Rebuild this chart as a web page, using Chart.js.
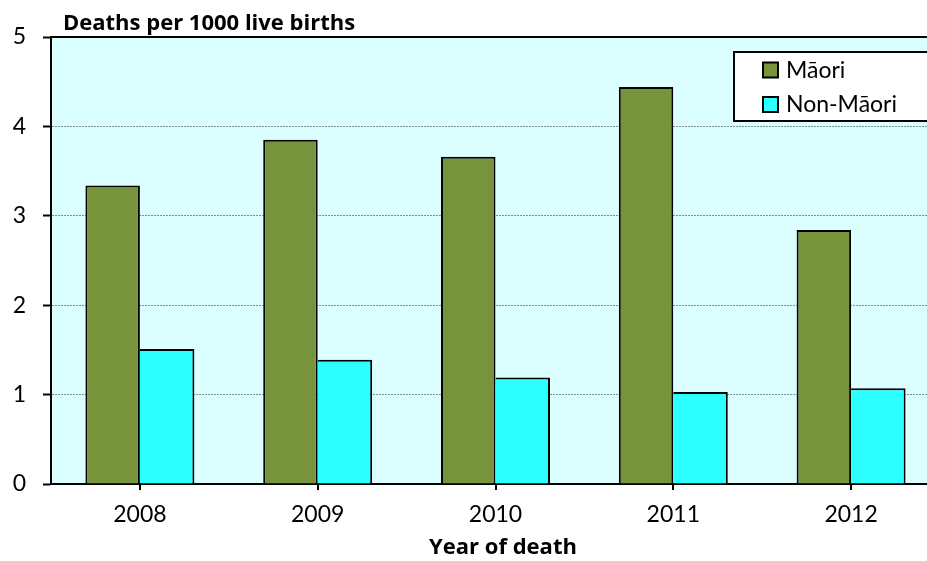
<!DOCTYPE html>
<html>
<head>
<meta charset="utf-8">
<script src="https://cdn.jsdelivr.net/npm/chart.js@4.4.0/dist/chart.umd.min.js"></script>
<style>
html,body{margin:0;padding:0;overflow:hidden;background:#fff;}
#wrap{position:relative;width:940px;height:561px;}
</style>
</head>
<body>
<div id="wrap"><canvas id="c"></canvas></div>
<script>
const years = ['2008','2009','2010','2011','2012'];
const maori = [3.34, 3.85, 3.66, 4.44, 2.84];
const nonMaori = [1.51, 1.39, 1.19, 1.03, 1.07];
const seriesNames = ['Māori', 'Non-Māori'];
const yTitle = 'Deaths per 1000 live births';
const xTitle = 'Year of death';

const FONT = 'Lato, "Open Sans", sans-serif';
const BFONT = '"Open Sans", Lato, sans-serif';

const bgPlugin = {
  id: 'bg',
  beforeDraw(chart) {
    const {ctx, chartArea: a} = chart;
    ctx.save();
    ctx.fillStyle = '#DBFFFF';
    ctx.fillRect(a.left, a.top, a.right - a.left, a.bottom - a.top);
    ctx.restore();
  }
};

const decoPlugin = {
  id: 'deco',
  afterDraw(chart) {
    const {ctx, chartArea: a} = chart;
    ctx.save();
    ctx.strokeStyle = '#000';
    ctx.lineWidth = 2;
    ctx.beginPath();
    ctx.moveTo(a.left, a.top);
    ctx.lineTo(a.right, a.top);
    ctx.stroke();
    ctx.fillStyle = '#000';
    ctx.font = 'bold 22px ' + BFONT;
    ctx.textBaseline = 'alphabetic';
    ctx.textAlign = 'left';
    ctx.fillText(yTitle, 63, 30);
    ctx.textAlign = 'center';
    ctx.fillText(xTitle, 503, 554);
    const lx = 734, ly = 52, lw = 260, lh = 69;
    ctx.fillStyle = '#fff';
    ctx.fillRect(lx, ly, lw, lh);
    ctx.lineWidth = 2;
    ctx.strokeStyle = '#000';
    ctx.strokeRect(lx, ly, lw, lh);
    const ds = chart.data.datasets;
    ctx.font = '23px ' + FONT;
    ctx.textAlign = 'left';
    ctx.textBaseline = 'middle';
    ds.forEach((d, i) => {
      const sy = 62.5 + i * 34.5;
      ctx.fillStyle = d.backgroundColor;
      ctx.fillRect(763, sy, 15, 15);
      ctx.lineWidth = 2;
      ctx.strokeStyle = '#000';
      ctx.strokeRect(763, sy, 15, 15);
      ctx.fillStyle = '#000';
      ctx.fillText(d.label, 786, sy + 8);
    });
    ctx.restore();
  }
};

new Chart(document.getElementById('c'), {
  type: 'bar',
  data: {
    labels: years,
    datasets: [
      {
        label: seriesNames[0],
        data: maori,
        backgroundColor: '#77933C',
        borderColor: '#000',
        borderWidth: {left: 2, top: 2, right: 2, bottom: 0},
        borderSkipped: 'start'
      },
      {
        label: seriesNames[1],
        data: nonMaori,
        backgroundColor: '#2BFFFF',
        borderColor: '#000',
        borderWidth: {left: 0, top: 2, right: 2, bottom: 0},
        borderSkipped: 'start'
      }
    ]
  },
  options: {
    responsive: true,
    maintainAspectRatio: false,
    animation: false,
    layout: {padding: {top: 37, right: 0, bottom: 0, left: 0}},
    plugins: {
      legend: {display: false},
      tooltip: {enabled: false},
      title: {display: false}
    },
    categoryPercentage: 0.613,
    barPercentage: 1.0,
    scales: {
      x: {
        grid: {
          display: true,
          offset: false,
          drawOnChartArea: false,
          drawTicks: true,
          tickLength: 6,
          color: '#000',
          lineWidth: 2
        },
        border: {display: true, color: '#000', width: 2},
        ticks: {
          color: '#000',
          font: {family: FONT, size: 23},
          padding: 11,
          maxRotation: 0
        },
        afterFit(scale) { scale.height = 77; }
      },
      y: {
        min: 0,
        max: 5,
        ticks: {
          stepSize: 1,
          color: '#000',
          font: {family: FONT, size: 23},
          padding: 17
        },
        grid: {
          color: '#7f8f8f',
          lineWidth: 1,
          drawTicks: true,
          tickLength: 8,
          tickColor: '#000',
          tickWidth: 2
        },
        border: {display: true, color: '#000', width: 2, dash: [2, 1]},
        afterFit(scale) { scale.width = 51; }
      }
    }
  },
  plugins: [bgPlugin, decoPlugin]
});
</script>
</body>
</html>
